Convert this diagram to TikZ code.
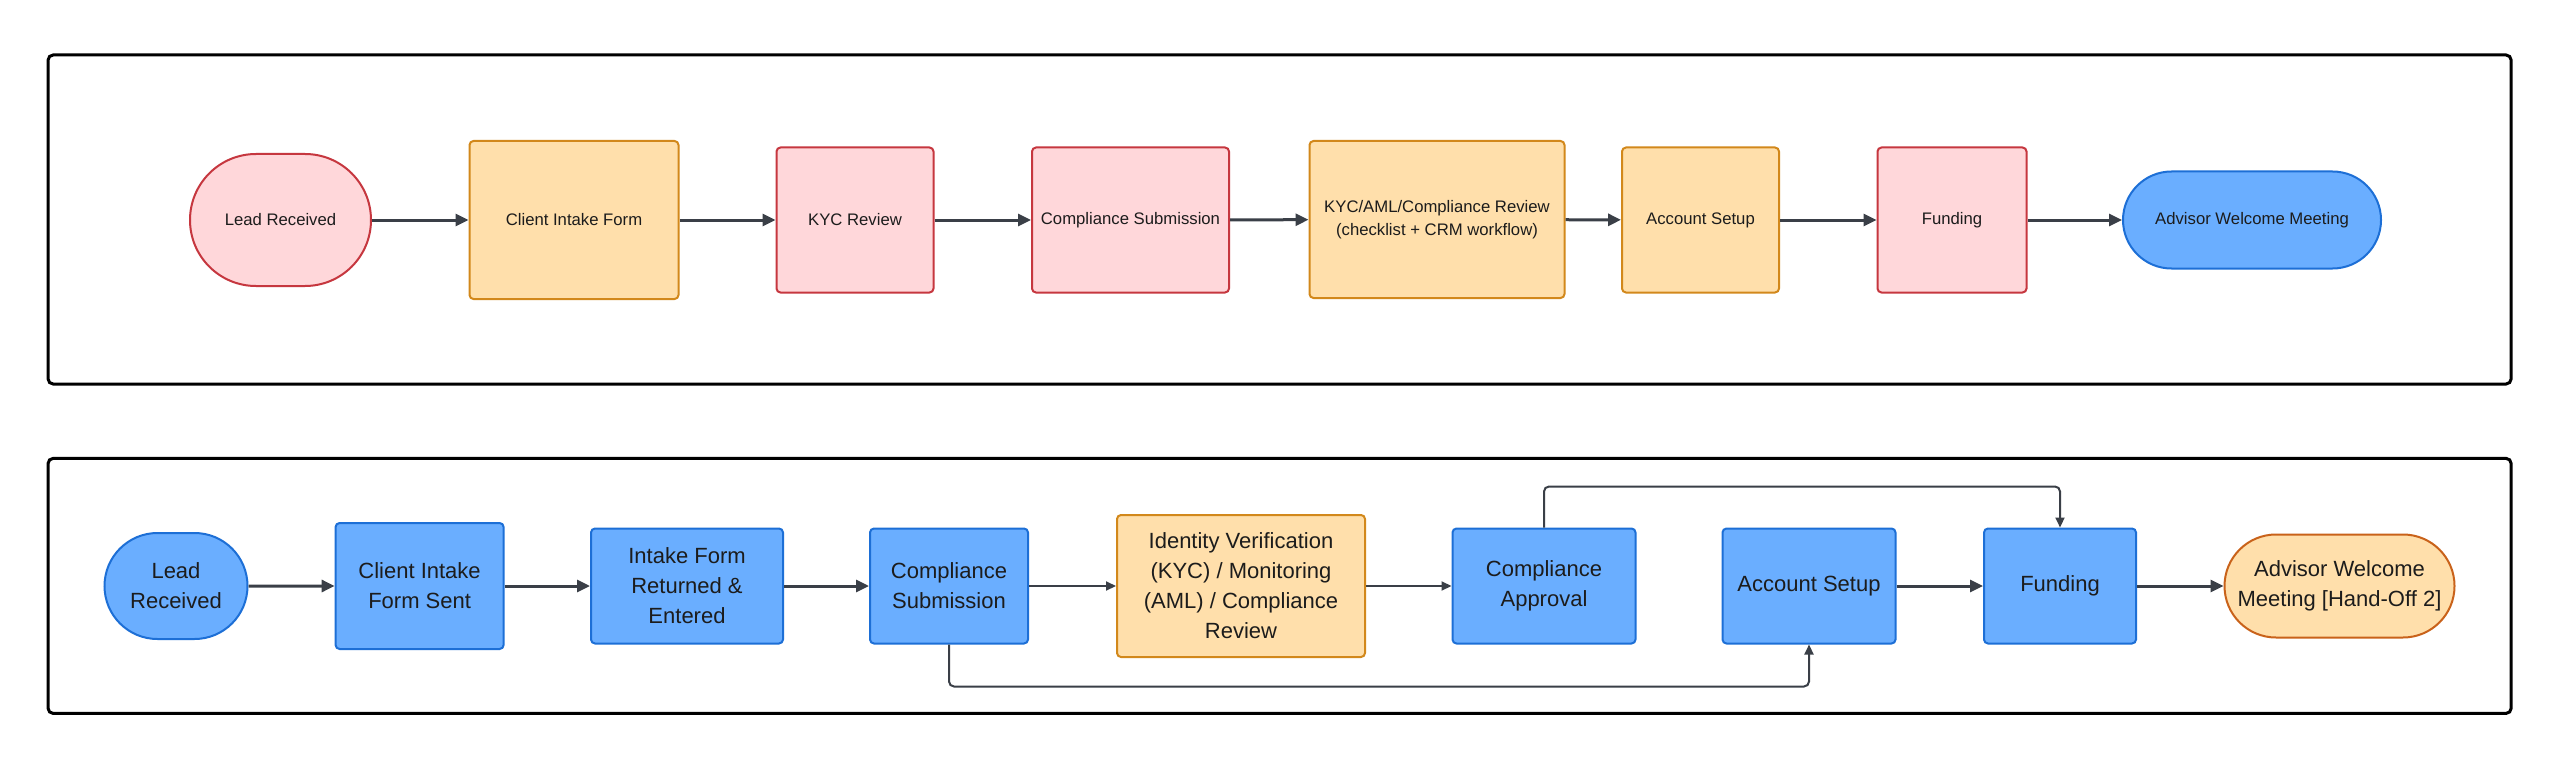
\documentclass[tikz,border=0pt]{standalone}
\usepackage{fontspec}
\setmainfont{Liberation Sans}
\usetikzlibrary{arrows.meta,shapes.misc}
\definecolor{pinkfill}{HTML}{FFD7DA}
\definecolor{pinkline}{HTML}{C6373F}
\definecolor{orfill}{HTML}{FFDFAB}
\definecolor{orline}{HTML}{D2881B}
\definecolor{orlinedark}{HTML}{C9621A}
\definecolor{bluefill}{HTML}{6AAEFF}
\definecolor{blueline}{HTML}{1D6FD6}
\definecolor{arrowc}{HTML}{3A3F47}
\definecolor{txt}{HTML}{1C1C1C}
\begin{document}
\begin{tikzpicture}[x=1pt,y=-1pt,
  box/.style={draw, line width=2pt, rounded corners=4pt, align=center, text=txt, inner sep=0pt},
  term/.style={draw, line width=2pt, rounded rectangle, align=center, text=txt, inner sep=0pt},
  pinkb/.style={fill=pinkfill, draw=pinkline},
  orb/.style={fill=orfill, draw=orline},
  blueb/.style={fill=bluefill, draw=blueline},
  smalltxt/.style={font=\fontsize{16.7}{23}\selectfont},
  bigtxt/.style={font=\fontsize{22}{30}\selectfont},
  flowA/.style={draw=arrowc, line width=3pt, -{Triangle[length=13pt,width=12pt]}},
  flowB/.style={draw=arrowc, line width=2pt, rounded corners=5pt, -{Triangle[length=10pt,width=9pt]}},
  frame/.style={draw=black, line width=3pt, rounded corners=5pt, inner sep=0pt}
]
\useasboundingbox (0,0) rectangle (2560,765);
\fill[white] (0,0) rectangle (2560,765);

% frames
\node[frame, minimum width=2463pt, minimum height=329pt] (topframe) at (1279.6,219.5) {};
\node[frame, minimum width=2463pt, minimum height=255pt] (botframe) at (1279.6,585.9) {};

% top row
\node[term, pinkb, smalltxt, minimum width=181pt, minimum height=132pt] (tLead) at (280.5,220) {Lead Received};
\node[box, orb, smalltxt, minimum width=209pt, minimum height=158pt] (tIntake) at (574,220) {Client Intake Form};
\node[box, pinkb, smalltxt, minimum width=157pt, minimum height=145pt] (tKYC) at (855,220) {KYC Review};
\node[box, pinkb, smalltxt, minimum width=197pt, minimum height=145pt] (tComp) at (1130.5,220) {Compliance Submission};
\node[box, orb, smalltxt, minimum width=255pt, minimum height=157pt] (tReview) at (1437,219.5) {KYC/AML/Compliance Review\\(checklist + CRM workflow)};
\node[box, orb, smalltxt, minimum width=157pt, minimum height=145pt] (tAcct) at (1700.5,220) {Account Setup};
\node[box, pinkb, smalltxt, minimum width=149pt, minimum height=145pt] (tFund) at (1952,220) {Funding};
\node[term, blueb, smalltxt, minimum width=258pt, minimum height=97pt] (tAdv) at (2252,220) {Advisor Welcome Meeting};

\draw[flowA] (tLead) -- (tIntake);
\draw[flowA] (tIntake) -- (tKYC);
\draw[flowA] (tKYC) -- (tComp);
\draw[flowA] (tComp) -- (tReview);
\draw[flowA] (tReview) -- (tAcct);
\draw[flowA] (tAcct) -- (tFund);
\draw[flowA] (tFund) -- (tAdv);

% bottom row
\node[term, blueb, bigtxt, minimum width=143pt, minimum height=106pt] (bLead) at (176,586) {Lead\\Received};
\node[box, blueb, bigtxt, minimum width=168pt, minimum height=126pt] (bSent) at (419.6,586) {Client Intake\\Form Sent};
\node[box, blueb, bigtxt, minimum width=192pt, minimum height=115pt] (bRet) at (687,586) {Intake Form\\Returned \&\\Entered};
\node[box, blueb, bigtxt, minimum width=158pt, minimum height=115pt] (bComp) at (949,586) {Compliance\\Submission};
\node[box, orb, bigtxt, minimum width=248pt, minimum height=142pt] (bIdent) at (1241,586) {Identity Verification\\(KYC) / Monitoring\\(AML) / Compliance\\Review};
\node[box, blueb, bigtxt, minimum width=183pt, minimum height=115pt] (bAppr) at (1544,586) {Compliance\\Approval};
\node[box, blueb, bigtxt, minimum width=173pt, minimum height=115pt] (bAcct) at (1809,586) {Account Setup};
\node[box, blueb, bigtxt, minimum width=152pt, minimum height=115pt] (bFund) at (2060,586) {Funding};
\node[term, orb, draw=orlinedark, bigtxt, minimum width=230pt, minimum height=103pt] (bAdv) at (2339.5,586) {Advisor Welcome\\Meeting [Hand-Off 2]};

\draw[flowA] (bLead) -- (bSent);
\draw[flowA] (bSent) -- (bRet);
\draw[flowA] (bRet) -- (bComp);
\draw[flowB] (bComp) -- (bIdent);
\draw[flowB] (bIdent) -- (bAppr);
\draw[flowB] (bAppr.north) -- ++(0,-41) -| (bFund.north);
\draw[flowB] (bComp.south) -- ++(0,42) -| (bAcct.south);
\draw[flowA] (bAcct) -- (bFund);
\draw[flowA] (bFund) -- (bAdv);
\end{tikzpicture}
\end{document}
